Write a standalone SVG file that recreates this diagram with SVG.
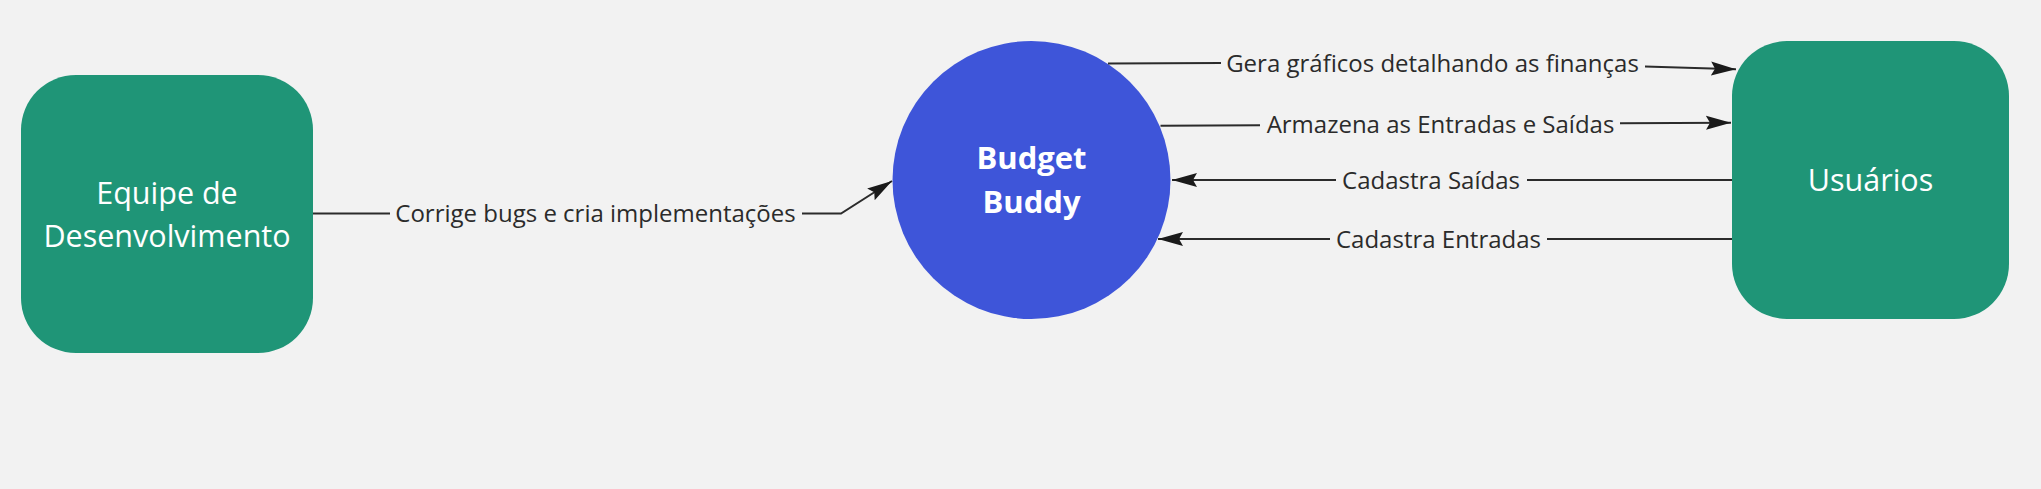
<svg xmlns="http://www.w3.org/2000/svg" width="2041" height="489" viewBox="0 0 2041 489">
<style>
.bg{fill:#f2f2f2}
.green{fill:#1f9577}
.blue{fill:#3e55d9}
.ntxt{font-family:"Open Sans","Noto Sans",sans-serif;font-size:30.5px;fill:#ffffff;text-anchor:middle}
.btxt{font-family:"Open Sans","Noto Sans",sans-serif;font-size:31px;font-weight:bold;fill:#ffffff;text-anchor:middle}
.ltxt{font-family:"Open Sans","Noto Sans",sans-serif;font-size:24px;fill:#2b2b2b;text-anchor:middle}
.edge{fill:none;stroke:#2b2b2b;stroke-width:2}
</style>
<defs>
<marker id="arr" viewBox="0 0 26 16" refX="25" refY="8" markerWidth="26" markerHeight="16" markerUnits="userSpaceOnUse" orient="auto">
<path d="M25,8 L0,1 L4,8 L0,15 Z" fill="#1a1a1a"/>
</marker>
</defs>
<rect class="bg" x="0" y="0" width="2041" height="489"/>
<g id="node-equipe">
<rect class="green" x="21" y="75" width="292" height="278" rx="55" ry="55"/>
<text class="ntxt" x="167" y="204">Equipe de</text>
<text class="ntxt" x="167" y="247">Desenvolvimento</text>
</g>
<g id="node-budget">
<circle class="blue" cx="1031.5" cy="180" r="139"/>
<text class="btxt" x="1031.5" y="169">Budget</text>
<text class="btxt" x="1031.5" y="213">Buddy</text>
</g>
<g id="node-usuarios">
<rect class="green" x="1732" y="41" width="277" height="278" rx="55" ry="55"/>
<text class="ntxt" x="1870.5" y="191">Usuários</text>
</g>
<g id="connectors">
<path class="edge" d="M313,213.5 L390,213.5"/>
<path class="edge" d="M802,213.5 L841,213.5 L892,181" marker-end="url(#arr)"/>
<text class="ltxt" x="595.5" y="222">Corrige bugs e cria implementações</text>
<path class="edge" d="M1108,63.5 L1221,63"/>
<path class="edge" d="M1645,66.5 L1736,69.3" marker-end="url(#arr)"/>
<text class="ltxt" x="1432.5" y="72">Gera gráficos detalhando as finanças</text>
<path class="edge" d="M1160.5,125.7 L1260,125.3"/>
<path class="edge" d="M1620,123.3 L1731,122.7" marker-end="url(#arr)"/>
<text class="ltxt" x="1440.5" y="133">Armazena as Entradas e Saídas</text>
<path class="edge" d="M1732,180 L1527,180"/>
<path class="edge" d="M1336,180 L1172,180" marker-end="url(#arr)"/>
<text class="ltxt" x="1431" y="188.5">Cadastra Saídas</text>
<path class="edge" d="M1732,239 L1547,239"/>
<path class="edge" d="M1330,239 L1158,239" marker-end="url(#arr)"/>
<text class="ltxt" x="1438.5" y="247.5">Cadastra Entradas</text>
</g>
</svg>
